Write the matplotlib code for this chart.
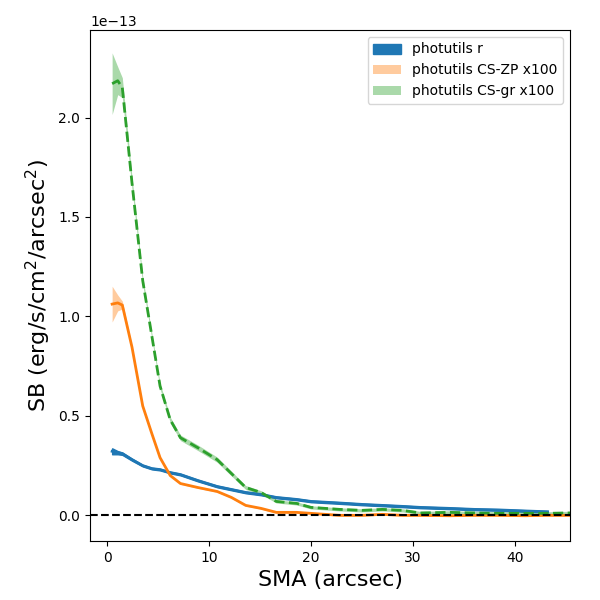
import matplotlib.pyplot as plt
import numpy as np

# semieje mayor (arcsec)
sma = np.array([0.5, 1.05, 1.5, 2.45, 3.5, 4.4, 5.2, 6.2, 7.2, 8.9, 10.8, 12.2, 13.6,
                15.1, 16.6, 18.6, 20.0, 22.8, 25.0, 27.0, 29.0, 30.7, 33.6, 36.0,
                38.5, 41.0, 43.2, 45.0, 46.5])

# perfiles en unidades de 1e-13 erg/s/cm2/arcsec2
sb_r = np.array([0.322, 0.315, 0.31, 0.28, 0.25, 0.235, 0.23, 0.215, 0.205, 0.175,
                 0.145, 0.13, 0.115, 0.105, 0.09, 0.08, 0.07, 0.062, 0.055, 0.05,
                 0.045, 0.04, 0.035, 0.03, 0.027, 0.022, 0.018])
err_r = np.array([0.015, 0.008, 0.006, 0.005, 0.004, 0.004, 0.004, 0.004, 0.004, 0.004,
                  0.004, 0.004, 0.004, 0.004, 0.004, 0.004, 0.004, 0.004, 0.004, 0.004,
                  0.004, 0.004, 0.004, 0.004, 0.004, 0.004, 0.004])

sb_zp = np.array([1.062, 1.068, 1.057, 0.845, 0.55, 0.41, 0.29, 0.20, 0.16, 0.14,
                  0.12, 0.09, 0.05, 0.035, 0.015, 0.015, 0.01, 0.0, 0.0, 0.005,
                  0.0, 0.0, -0.002, 0.0, 0.0, -0.002, 0.0, 0.0, 0.0])
err_zp = np.array([0.09, 0.04, 0.02, 0.008, 0.006, 0.005, 0.005, 0.004, 0.004, 0.004,
                   0.004, 0.004, 0.004, 0.004, 0.004, 0.004, 0.004, 0.004, 0.004, 0.004,
                   0.004, 0.004, 0.004, 0.004, 0.004, 0.004, 0.004, 0.004, 0.004])

sb_gr = np.array([2.17, 2.185, 2.15, 1.67, 1.18, 0.9, 0.65, 0.48, 0.39, 0.34,
                  0.28, 0.21, 0.14, 0.115, 0.07, 0.06, 0.04, 0.03, 0.025, 0.03,
                  0.025, 0.012, 0.015, 0.012, 0.01, 0.01, 0.01, 0.012, 0.012])
err_gr = np.array([0.155, 0.07, 0.05, 0.03, 0.02, 0.015, 0.014, 0.014, 0.014, 0.014,
                   0.013, 0.012, 0.01, 0.009, 0.008, 0.008, 0.008, 0.008, 0.008, 0.008,
                   0.008, 0.008, 0.008, 0.008, 0.008, 0.008, 0.008, 0.008, 0.008])

escala = 1e-13
n_r = len(sb_r)

fig, ax = plt.subplots(figsize=(6, 6), dpi=100)
fig.subplots_adjust(left=0.15, right=0.95, bottom=0.098, top=0.95)

ax.fill_between(sma[:n_r], (sb_r - err_r) * escala, (sb_r + err_r) * escala,
                color='C0', label='photutils r')
ax.plot(sma[:n_r], sb_r * escala, color='C0', lw=2)

ax.fill_between(sma, (sb_zp - err_zp) * escala, (sb_zp + err_zp) * escala,
                color='C1', alpha=0.4, lw=0, label='photutils CS-ZP x100')
ax.plot(sma, sb_zp * escala, color='C1', lw=2)

ax.fill_between(sma, (sb_gr - err_gr) * escala, (sb_gr + err_gr) * escala,
                color='C2', alpha=0.4, lw=0, label='photutils CS-gr x100')
ax.plot(sma, sb_gr * escala, color='C2', lw=2, ls='--')

ax.axhline(0, color='k', ls='--')

ax.set_xlim(-1.67, 45.4)
ax.set_ylim(-0.13e-13, 2.44e-13)
ax.set_xlabel('SMA (arcsec)', fontsize=16)
ax.set_ylabel('SB (erg/s/cm$^2$/arcsec$^2$)', fontsize=16)
ax.legend(loc='upper right')

plt.savefig('out.png')
